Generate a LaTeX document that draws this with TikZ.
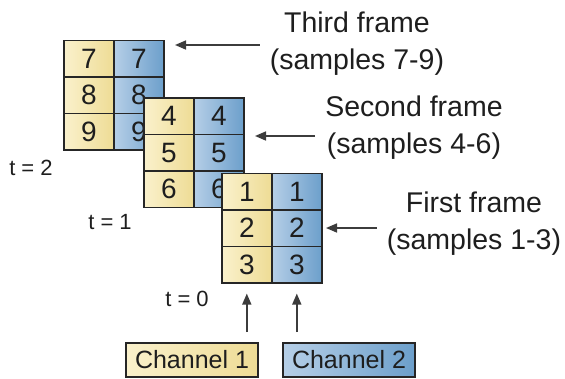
\documentclass[tikz,border=0pt]{standalone}
\usepackage{fontspec}
\setmainfont{Liberation Sans}
\usetikzlibrary{arrows.meta}
\definecolor{yl}{HTML}{FAF1CC}
\definecolor{yr}{HTML}{EEDC95}
\definecolor{bl}{HTML}{B6CFE7}
\definecolor{br}{HTML}{6C9FCB}
\definecolor{edge}{HTML}{262626}
\definecolor{arrowgray}{HTML}{3C3C3C}
\definecolor{txt}{HTML}{1E1E1E}
\tikzset{
  cell/.style={draw=edge, line width=1.6pt, minimum width=50pt, minimum height=36.5pt,
    inner sep=0pt, anchor=north west, font=\fontsize{28}{30}\selectfont, text=txt},
  ycell/.style={cell, left color=yl, right color=yr},
  bcell/.style={cell, left color=bl, right color=br},
  chan/.style={draw=edge, line width=1.6pt, minimum width=132pt, minimum height=34pt,
    inner sep=0pt, font=\fontsize{25}{27}\selectfont, text=txt},
  lab/.style={align=center, font=\fontsize{28.5}{37}\selectfont, text=txt, inner xsep=10pt, inner ysep=0pt},
  tlab/.style={font=\fontsize{22}{24}\selectfont, text=txt, inner sep=0pt},
  arr/.style={draw=arrowgray, line width=1.6pt, -{Triangle[width=9pt,length=11pt]}}
}
\newcommand\myframe[6]{%
  \node[ycell] (#1a1) at (#2,#3) {#4};
  \node[bcell] (#1b1) at (#2+50,#3) {#4};
  \node[ycell] (#1a2) at (#2,#3+36.5) {#5};
  \node[bcell] (#1b2) at (#2+50,#3+36.5) {#5};
  \node[ycell] (#1a3) at (#2,#3+73) {#6};
  \node[bcell] (#1b3) at (#2+50,#3+73) {#6};
}
\begin{document}
\begin{tikzpicture}[x=1pt,y=-1pt]
\useasboundingbox (0,0) rectangle (565,378);
% frames
\myframe{f3}{63}{39.5}{7}{8}{9}
\myframe{f2}{143}{97}{4}{5}{6}
\myframe{f1}{221}{172.5}{1}{2}{3}
% time labels
\node[tlab] (t2) at (31,168) {t = 2};
\node[tlab] (t1) at (110,222) {t = 1};
\node[tlab] (t0) at (187,299) {t = 0};
% frame labels
\node[lab] (l3) at (357,43.5) {Third frame\\(samples 7-9)};
\node[lab] (l2) at (414,127.5) {Second frame\\(samples 4-6)};
\node[lab] (l1) at (474,224) {First frame\\(samples 1-3)};
\coordinate (p3) at (175,45);
\coordinate (p2) at (255,136);
\coordinate (p1) at (326,228);
\draw[arr] (l3.west |- p3) -- (p3);
\draw[arr] (l2.west |- p2) -- (p2);
\draw[arr] (l1.west |- p1) -- (p1);
% channels
\node[chan, left color=yl, right color=yr] (ch1) at (192,360) {Channel 1};
\node[chan, left color=bl, right color=br] (ch2) at (349,360) {Channel 2};
\draw[arr, shorten <=10pt, shorten >=10pt] (ch1.north -| f1a3) -- (f1a3.south);
\draw[arr, shorten <=10pt, shorten >=10pt] (ch2.north -| f1b3) -- (f1b3.south);
\end{tikzpicture}
\end{document}
